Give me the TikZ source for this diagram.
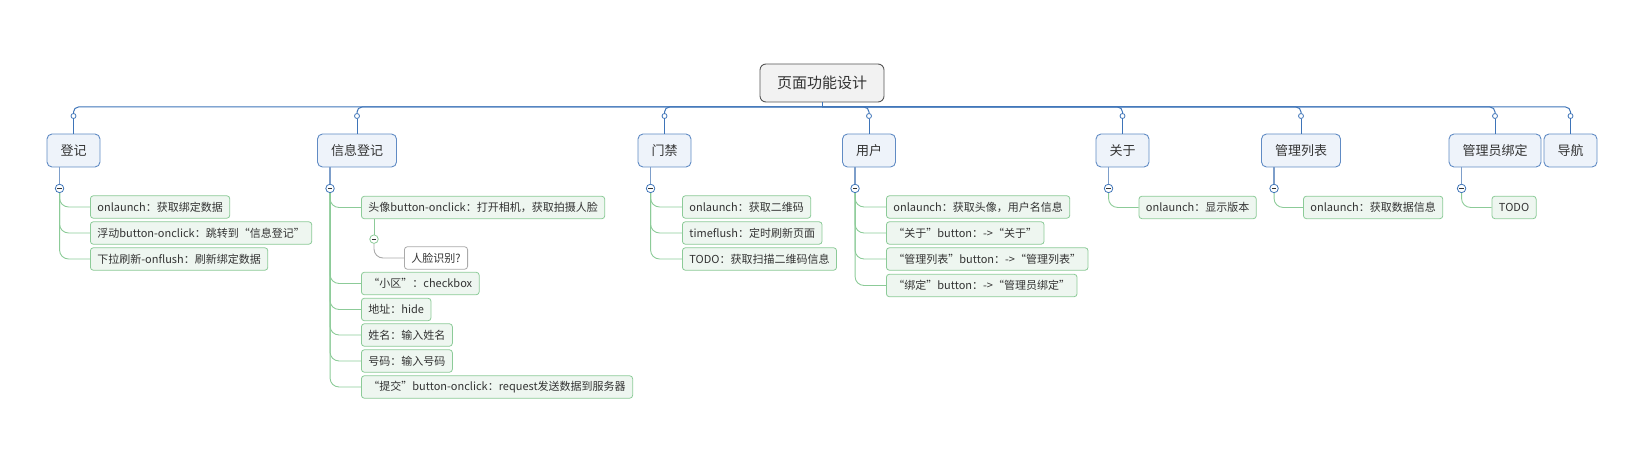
\documentclass[tikz,border=0pt]{standalone}
\usepackage{fontspec}
\setmainfont{Noto Sans CJK SC}
\usetikzlibrary{calc}

\definecolor{busColor}{RGB}{62,116,184}
\definecolor{topicLine}{RGB}{96,139,196}
\definecolor{topicFill}{RGB}{238,243,250}
\definecolor{stemColor}{RGB}{125,158,202}
\definecolor{leafLine}{RGB}{140,203,152}
\definecolor{leafFill}{RGB}{238,246,240}
\definecolor{grayLine}{RGB}{170,170,170}
\definecolor{rootFill}{RGB}{242,242,242}
\definecolor{rootLine}{RGB}{85,85,85}
\definecolor{inkColor}{RGB}{51,51,51}

\begin{document}
\begin{tikzpicture}[x=1pt,y=-1pt,
  rootbox/.style={draw=rootLine,fill=rootFill,rounded corners=6pt,line width=0.9pt,
    minimum width=124pt,minimum height=38pt,font=\fontsize{15}{18}\selectfont,text=inkColor},
  topic/.style={draw=topicLine,fill=topicFill,rounded corners=5pt,line width=0.9pt,
    minimum height=33pt,inner xsep=13.5pt,font=\fontsize{13}{15}\selectfont,text=inkColor},
  leaf/.style={draw=leafLine,fill=leafFill,rounded corners=3pt,line width=0.8pt,anchor=west,
    minimum height=22.5pt,inner xsep=7pt,inner ysep=0pt,font=\fontsize{11}{13}\selectfont,text=inkColor},
  plainleaf/.style={leaf,draw=grayLine,fill=white},
  joint/.style={circle,draw=busColor,fill=white,line width=0.8pt,minimum size=5pt,inner sep=0pt},
  fold/.style={circle,draw=busColor,fill=white,line width=0.8pt,minimum size=8.5pt,inner sep=0pt},
  leaffold/.style={fold,draw=leafLine},
  busline/.style={draw=busColor,line width=1pt},
  stemline/.style={draw=stemColor,line width=1.6pt},
  leafline/.style={draw=leafLine,line width=0.9pt,rounded corners=9pt},
  grayline/.style={draw=grayLine,line width=0.9pt,rounded corners=9pt}]
  \useasboundingbox (0,0) rectangle (1648,473);

  % Root
  \node[rootbox] (root) at (822,83) {页面功能设计};
  \coordinate (hub) at (822,107);
  \coordinate (busrow) at (0,116);
  \draw[busline] (root.south) -- (hub);

  % Main topics
  \node[topic] (dengji) at (73.5,150.5) {登记};
  \node[topic] (xinxi) at (357,150.5) {信息登记};
  \node[topic] (menjin) at (664.5,150.5) {门禁};
  \node[topic] (yonghu) at (869,150.5) {用户};
  \node[topic] (guanyu) at (1122.5,150.5) {关于};
  \node[topic] (liebiao) at (1301,150.5) {管理列表};
  \node[topic] (bangding) at (1495,150.5) {管理员绑定};
  \node[topic] (daohang) at (1570.5,150.5) {导航};

  \foreach \t in {dengji,xinxi,menjin,yonghu,guanyu,liebiao,bangding,daohang} {
    \node[joint] (\t-j) at (\t.north |- busrow) {};
    \draw[busline,rounded corners=5pt] (hub) -| (\t-j.north);
    \draw[busline] (\t-j.south) -- (\t.north);
  }

  % Fold buttons
  \foreach \t in {dengji,xinxi,menjin,yonghu,guanyu,liebiao,bangding} {
    \node[fold] (\t-f) at ($(\t.south west)+(13,21)$) {};
    \draw[stemline] (\t.south west -| \t-f) -- (\t-f.north);
  }

  % 登记
  \node[leaf] (dengji-1) at (90,207) {onlaunch：获取绑定数据};
  \node[leaf] (dengji-2) at (90,233) {浮动button-onclick：跳转到“信息登记”};
  \node[leaf] (dengji-3) at (90,259) {下拉刷新-onflush：刷新绑定数据};
  \foreach \c in {1,2,3}
    \draw[leafline] (dengji-f.south) |- (dengji-\c.west);

  % 信息登记
  \node[leaf] (xinxi-1) at (361,207.5) {头像button-onclick：打开相机，获取拍摄人脸};
  \node[leaf] (xinxi-2) at (361,283.5) {“小区”：checkbox};
  \node[leaf] (xinxi-3) at (361,309.5) {地址：hide};
  \node[leaf] (xinxi-4) at (361,335) {姓名：输入姓名};
  \node[leaf] (xinxi-5) at (361,361) {号码：输入号码};
  \node[leaf] (xinxi-6) at (361,387) {“提交”button-onclick：request发送数据到服务器};
  \foreach \c in {1,...,6}
    \draw[leafline] (xinxi-f.south) |- (xinxi-\c.west);
  \node[leaffold] (xinxi-1f) at ($(xinxi-1.south west)+(13,20)$) {};
  \draw[leafline] (xinxi-1.south west -| xinxi-1f) -- (xinxi-1f.north);
  \node[plainleaf] (face) at (404,258) {人脸识别?};
  \draw[grayline] (xinxi-1f.south) |- (face.west);

  % 门禁
  \node[leaf] (menjin-1) at (682,207) {onlaunch：获取二维码};
  \node[leaf] (menjin-2) at (682,233) {timeflush：定时刷新页面};
  \node[leaf] (menjin-3) at (682,259) {TODO：获取扫描二维码信息};
  \foreach \c in {1,2,3}
    \draw[leafline] (menjin-f.south) |- (menjin-\c.west);

  % 用户
  \node[leaf] (yonghu-1) at (886,207) {onlaunch：获取头像，用户名信息};
  \node[leaf] (yonghu-2) at (886,233) {“关于”button：->“关于”};
  \node[leaf] (yonghu-3) at (886,259) {“管理列表”button：->“管理列表”};
  \node[leaf] (yonghu-4) at (886,285.5) {“绑定”button：->“管理员绑定”};
  \foreach \c in {1,...,4}
    \draw[leafline] (yonghu-f.south) |- (yonghu-\c.west);

  % 关于, 管理列表, 管理员绑定
  \node[leaf] (guanyu-1) at ($(guanyu-f)+(30,19)$) {onlaunch：显示版本};
  \draw[leafline] (guanyu-f.south) |- (guanyu-1.west);
  \node[leaf] (liebiao-1) at ($(liebiao-f)+(29,19)$) {onlaunch：获取数据信息};
  \draw[leafline] (liebiao-f.south) |- (liebiao-1.west);
  \node[leaf] (bangding-1) at ($(bangding-f)+(30,19)$) {TODO};
  \draw[leafline] (bangding-f.south) |- (bangding-1.west);

  % Minus signs
  \foreach \f in {dengji-f,xinxi-f,menjin-f,yonghu-f,guanyu-f,liebiao-f,bangding-f,xinxi-1f}
    \draw[inkColor,line width=0.9pt] ([xshift=-2.2pt]\f.center) -- ([xshift=2.2pt]\f.center);
\end{tikzpicture}
\end{document}
